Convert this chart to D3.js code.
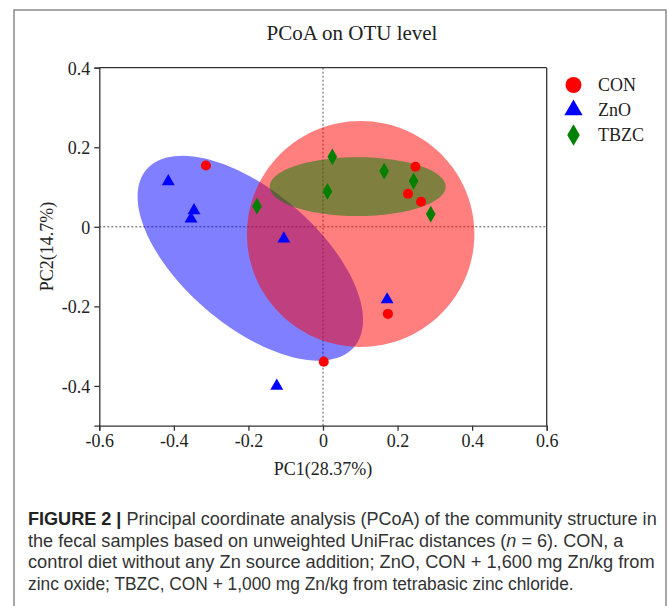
<!DOCTYPE html>
<html><head><meta charset="utf-8">
<script src="https://cdn.jsdelivr.net/npm/d3@7"></script>
<style>body{margin:0;background:#fff}svg{display:block}</style>
</head><body>
<svg id="c" width="669" height="606"></svg>
<script>
// ---- data ----
const groups = ["CON", "ZnO", "TBZC"];
const groupColors = ["#ff0000", "#0000ff", "#008000"];
const conPC1 = [-0.314, 0.248, 0.228, 0.263, 0.174, 0.002];
const conPC2 = [0.154, 0.151, 0.083, 0.063, -0.219, -0.339];
const znoPC1 = [-0.415, -0.346, -0.354, -0.105, -0.124, 0.172];
const znoPC2 = [0.114, 0.041, 0.020, -0.030, -0.400, -0.183];
const tbzcPC1 = [-0.177, 0.025, 0.012, 0.164, 0.243, 0.289];
const tbzcPC2 = [0.052, 0.176, 0.089, 0.140, 0.115, 0.032];
// group ellipses: centre, semi-axes, rotation (deg) in data units
const ellipseCX = [0.101, -0.195, 0.093];
const ellipseCY = [-0.018, -0.079, 0.101];
const ellipseA = [0.305, 0.357, 0.236];
const ellipseB = [0.284, 0.174, 0.074];
const ellipseAngle = [0, -37.5, 0];
const xTicks = [-0.6, -0.4, -0.2, 0, 0.2, 0.4, 0.6];
const yTicks = [-0.4, -0.2, 0, 0.2, 0.4];
const xDomain = [-0.6, 0.6];
const yDomain = [-0.5, 0.4];
const title = "PCoA on OTU level";
const xLabel = "PC1(28.37%)";
const yLabel = "PC2(14.7%)";

const svg = d3.select("#c");
const L = 99.3, R = 546.7, T = 67.7, B = 425.7;
const x = d3.scaleLinear().domain(xDomain).range([L, R]);
const y = d3.scaleLinear().domain(yDomain).range([B, T]);
const serif = "'Liberation Serif','Times New Roman',Times,serif";
const fmt = d => d === 0 ? "0" : d.toFixed(1);

// outer frame
svg.append("rect").attr("x", 14).attr("y", 10).attr("width", 652).attr("height", 620)
  .attr("fill", "none").attr("stroke", "#8a8a8a").attr("stroke-width", 1.5);

// title
svg.append("text").attr("x", 352).attr("y", 39.5).attr("text-anchor", "middle")
  .attr("font-family", serif).attr("font-size", 21).attr("fill", "#222").text(title);

// reference dotted lines
const g = svg.append("g");
g.append("line").attr("x1", x(0)).attr("x2", x(0)).attr("y1", T).attr("y2", B)
  .attr("stroke", "#555").attr("stroke-dasharray", "2,2").attr("stroke-width", 1);
g.append("line").attr("x1", L).attr("x2", R).attr("y1", y(0)).attr("y2", y(0))
  .attr("stroke", "#555").attr("stroke-dasharray", "2,2").attr("stroke-width", 1);

// ellipses (draw order: ZnO, CON, TBZC)
const line = d3.line().x(d => x(d[0])).y(d => y(d[1]));
[1, 0, 2].forEach(i => {
  const th = ellipseAngle[i] * Math.PI / 180;
  const pts = d3.range(0, 121).map(k => {
    const t = k / 120 * 2 * Math.PI;
    const ex = ellipseA[i] * Math.cos(t), ey = ellipseB[i] * Math.sin(t);
    return [ellipseCX[i] + ex * Math.cos(th) - ey * Math.sin(th),
            ellipseCY[i] + ex * Math.sin(th) + ey * Math.cos(th)];
  });
  g.append("path").attr("d", line(pts) + "Z").attr("fill", groupColors[i])
    .attr("fill-opacity", 0.5).attr("stroke", "none");
});

// axes
const xAxis = svg.append("g").attr("transform", `translate(0,${B})`)
  .call(d3.axisBottom(x).tickValues(xTicks).tickSize(5).tickPadding(4).tickFormat(fmt));
const yAxis = svg.append("g").attr("transform", `translate(${L},0)`)
  .call(d3.axisLeft(y).tickValues(yTicks).tickSize(5).tickPadding(4).tickFormat(fmt));
[xAxis, yAxis].forEach(a => {
  a.select(".domain").attr("stroke", "#333").attr("stroke-width", 1.3);
  a.selectAll(".tick line").attr("stroke", "#333").attr("stroke-width", 1.3);
  a.selectAll(".tick text").attr("font-family", serif).attr("font-size", 18).attr("fill", "#222");
});
yAxis.selectAll(".tick text").attr("dy", "0.36em");
// top and right frame
svg.append("line").attr("x1", L).attr("x2", R).attr("y1", T).attr("y2", T).attr("stroke", "#333").attr("stroke-width", 1.3);
svg.append("line").attr("x1", R).attr("x2", R).attr("y1", T).attr("y2", B).attr("stroke", "#333").attr("stroke-width", 1.3);

// axis labels
svg.append("text").attr("x", 323).attr("y", 475).attr("text-anchor", "middle")
  .attr("font-family", serif).attr("font-size", 18).attr("fill", "#222").text(xLabel);
svg.append("text").attr("transform", `translate(53,246.5) rotate(-90)`).attr("text-anchor", "middle")
  .attr("font-family", serif).attr("font-size", 18).attr("fill", "#222").text(yLabel);

// points
const shapes = [d3.symbolCircle, d3.symbolTriangle, d3.symbolDiamond];
const sizes = [80, 72, 80];
const legendSizes = [200, 145, 136];
const pcx = [conPC1, znoPC1, tbzcPC1];
const pcy = [conPC2, znoPC2, tbzcPC2];
[0, 1, 2].forEach(i => {
  const sym = d3.symbol().type(shapes[i]).size(sizes[i]);
  svg.append("g").selectAll("path").data(pcx[i].map((v, k) => [v, pcy[i][k]])).join("path")
    .attr("transform", d => `translate(${x(d[0])},${y(d[1])})`)
    .attr("d", sym).attr("fill", groupColors[i]);
});

// legend
const leg = svg.append("g");
groups.forEach((name, i) => {
  const ly = 85 + i * 25;
  leg.append("path").attr("transform", `translate(573.5,${ly})`)
    .attr("d", d3.symbol().type(shapes[i]).size(legendSizes[i])).attr("fill", groupColors[i]);
  leg.append("text").attr("x", 598).attr("y", ly + 6).attr("font-family", serif)
    .attr("font-size", 18).attr("fill", "#222").text(name);
});

// caption (condensed sans: each line scaled horizontally to its measured width)
const sans = "'Liberation Sans',Arial,sans-serif";
const cap = svg.append("g").attr("font-family", sans).attr("font-size", 18.5).attr("fill", "#333");
const capLines = [
  [["FIGURE 2 | ", "b"], ["Principal coordinate analysis (PCoA) of the community structure in", ""]],
  [["the fecal samples based on unweighted UniFrac distances (", ""], ["n", "i"], [" = 6). CON, a", ""]],
  [["control diet without any Zn source addition; ZnO, CON + 1,600 mg Zn/kg from", ""]],
  [["zinc oxide; TBZC, CON + 1,000 mg Zn/kg from tetrabasic zinc chloride.", ""]]
];
const capWidths = [629, 596, 627, 546];
capLines.forEach((parts, li) => {
  const t = cap.append("text").attr("x", 0).attr("y", 0);
  parts.forEach(p => {
    const ts = t.append("tspan").text(p[0]);
    if (p[1] === "b") ts.attr("font-weight", "bold").attr("fill", "#222");
    if (p[1] === "i") ts.attr("font-style", "italic");
  });
  const w = t.node().getComputedTextLength();
  const sx = capWidths[li] / w;
  t.attr("transform", `translate(28,${525 + li * 21.7}) scale(${sx},1)`);
});
</script>
</body></html>
